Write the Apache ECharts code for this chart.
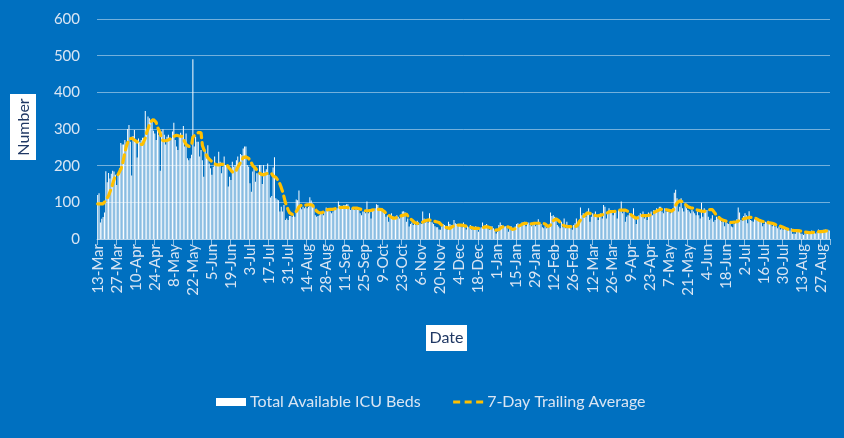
<!DOCTYPE html>
<html>
<head>
<meta charset="utf-8">
<script src="https://cdn.jsdelivr.net/npm/echarts@6/dist/echarts.min.js"></script>
<style>
html,body{margin:0;padding:0;background:#0070C0;}
#chart{width:844px;height:438px;}
</style>
</head>
<body>
<div id="chart"></div>
<script>
// First date of the series: 13-Mar-2020, one bar per day
const startYear = 2020, startMonth = 2, startDay = 13;
const monthNames = ['Jan','Feb','Mar','Apr','May','Jun','Jul','Aug','Sep','Oct','Nov','Dec'];

// Total Available ICU Beds (daily)
const icuBeds = [
  120,125,45,55,60,72,185,155,180,165,178,186,184,175,
  147,180,193,262,258,258,270,263,300,311,265,173,281,297,
  270,222,274,265,270,276,276,349,297,334,329,320,320,295,
  288,270,302,284,186,293,299,284,258,279,284,268,275,293,
  317,270,252,243,279,290,281,308,252,288,220,215,220,230,
  490,252,279,265,265,225,243,215,170,243,220,256,206,193,
  175,197,225,206,202,238,211,179,197,225,202,202,143,170,
  161,211,197,202,215,225,202,232,229,247,252,252,202,197,
  152,129,184,193,156,179,179,202,202,150,202,184,190,206,
  175,113,117,195,223,111,108,106,75,88,75,93,52,56,
  52,63,63,61,65,61,108,106,132,88,81,88,84,88,
  84,88,114,105,97,88,65,61,63,65,70,70,65,75,
  86,81,79,75,
  70,75,84,79,84,102,93,88,88,93,93,95,95,88,
  79,84,86,79,84,79,79,70,65,75,75,70,102,70,
  75,56,79,79,84,95,93,84,79,84,79,70,61,65,
  47,63,70,63,56,61,65,61,56,61,75,76,73,47,
  56,34,41,45,38,43,38,50,38,43,41,75,56,45,
  52,45,70,47,45,41,35,32,32,26,25,35,41,38,
  29,26,47,41,38,38,52,43,41,41,38,35,32,45,
  32,26,35,32,38,26,29,26,35,25,20,29,32,45,
  32,38,41,29,25,34,35,29,23,15,20,38,45,38,
  34,34,35,29,20,34,35,25,29,34,41,43,34,38,
  45,38,47,35,41,45,38,35,41,45,35,38,54,43,
  41,32,29,35,29,38,38,72,63,65,61,56,38,34,
  29,47,32,56,29,47,34,35,29,25,38,43,56,32,
  47,86,65,70,65,61,75,84,47,61,70,65,75,61,
  52,65,70,56,93,88,56,75,84,79,75,65,79,75,
  56,79,81,102,70,79,47,61,65,70,65,61,84,54,
  41,56,65,70,61,75,56,63,52,72,65,75,65,79,
  75,84,79,88,88,75,70,84,75,75,79,70,79,84,
  126,134,111,75,88,111,84,75,97,84,79,75,70,79,
  75,70,65,75,65,
  56,99,61,84,75,79,61,52,56,65,47,52,61,56,
  63,52,47,50,35,47,43,41,45,34,32,41,47,54,
  86,72,52,50,63,70,65,43,76,52,50,47,54,56,
  52,50,54,50,35,41,47,45,50,45,41,35,38,34,
  35,29,34,26,29,26,32,25,25,29,23,29,14,15,
  14,25,26,25,15,14,11,15,17,20,14,17,23,20,
  17,15,20,26,17,23,17,25,26,20,25,23
];

// 7-Day Trailing Average
const trailingAvg = [
  96,96,96,96,96,97,105,112,118,128,138,150,162,172,
  175,176,178,190,200,218,235,252,262,272,275,275,271,270,
  268,265,260,258,257,258,260,275,290,300,312,320,325,326,
  325,318,305,297,288,275,268,266,268,268,270,272,275,277,
  280,284,283,282,281,281,280,275,265,258,254,252,252,255,
  278,282,285,288,290,292,290,255,245,238,228,222,218,214,
  212,208,205,203,202,202,203,204,205,203,202,202,198,192,
  188,183,179,182,188,196,202,208,215,222,225,224,222,220,
  215,208,200,195,193,188,183,180,177,175,175,176,178,180,
  180,181,178,172,170,168,165,158,150,140,129,115,100,90,
  80,72,68,67,68,70,72,80,88,92,93,92,92,93,
  93,94,94,93,92,88,82,76,72,71,72,72,73,75,
  78,80,81,81,
  81,81,82,83,84,85,86,86,86,86,86,86,86,85,
  84,84,84,84,84,84,83,82,80,78,77,77,77,77,
  77,78,79,80,81,81,81,81,81,80,78,74,70,68,
  65,62,59,57,56,57,59,61,62,63,64,65,66,68,
  64,58,56,52,48,45,43,42,42,43,44,46,48,50,
  51,52,52,51,50,49,48,47,46,45,42,38,35,33,
  32,31,30,29,31,34,37,38,38,38,38,38,37,37,
  36,35,34,33,32,31,30,29,29,29,29,29,30,31,
  32,33,34,33,32,30,28,27,25,24,24,26,29,32,
  33,34,34,34,33,31,28,26,25,28,31,34,36,38,
  40,42,43,43,42,42,41,41,42,43,43,43,43,43,
  43,43,42,41,38,34,32,38,44,50,54,55,54,50,
  45,41,38,36,35,34,34,34,34,34,34,33,34,38,
  47,52,56,61,64,68,71,72,70,68,66,65,64,63,
  63,64,65,66,67,68,70,72,74,75,75,75,75,76,
  78,79,79,79,79,79,79,78,75,70,67,64,61,58,
  56,57,60,62,64,64,64,64,64,64,65,67,70,72,
  74,76,78,80,81,81,81,81,80,79,78,77,76,75,
  82,92,98,102,104,104,102,99,95,91,88,86,85,84,
  84,82,80,79,78,
  77,76,75,75,76,78,79,80,81,80,76,70,65,61,
  58,55,52,51,50,49,48,47,46,45,45,46,46,47,
  49,51,53,54,55,56,57,58,59,59,58,58,57,56,
  54,52,50,49,48,47,46,45,45,44,44,43,42,40,
  39,37,36,35,34,32,31,29,28,26,25,24,23,23,
  23,23,22,22,21,21,20,19,18,18,17,17,17,18,
  18,19,19,20,20,20,20,21,21,22,22,23
];

const yTicks = {min: 0, max: 600, step: 100};
const seriesNames = ['Total Available ICU Beds', '7-Day Trailing Average'];
const axisTitles = {x: 'Date', y: 'Number'};

// Category labels (d-Mmm) for each day
const categories = [];
for (let i = 0; i < icuBeds.length; i++) {
  const d = new Date(Date.UTC(startYear, startMonth, startDay + i));
  categories.push(d.getUTCDate() + '-' + monthNames[d.getUTCMonth()]);
}

const txt = '#D9E5F3';
const grid = 'rgba(255,255,255,0.45)';
const chart = echarts.init(document.getElementById('chart'), null, {renderer: 'canvas'});
chart.setOption({
  backgroundColor: '#0070C0',
  animation: false,
  textStyle: {fontFamily: 'Lato'},
  grid: {left: 97, top: 19, width: 733, height: 220, containLabel: false, outerBoundsMode: 'none'},
  xAxis: {
    type: 'category', data: categories, boundaryGap: true,
    axisLine: {show: true, lineStyle: {color: grid, width: 1}},
    axisTick: {show: true, interval: 13, length: 6, lineStyle: {color: 'rgba(255,255,255,0.55)'}},
    axisLabel: {interval: 13, rotate: 90, color: txt, fontSize: 15, fontFamily: 'Lato', margin: 5},
    splitLine: {show: false}
  },
  yAxis: {
    type: 'value', min: yTicks.min, max: yTicks.max, interval: yTicks.step,
    axisLine: {show: false}, axisTick: {show: false},
    axisLabel: {color: txt, fontSize: 15, fontFamily: 'Lato', margin: 17},
    splitLine: {show: true, lineStyle: {color: grid, width: 1}}
  },
  legend: {
    show: true, orient: 'horizontal', left: 216, top: 392, padding: 0,
    itemWidth: 30, itemHeight: 8, itemGap: 31,
    textStyle: {color: txt, fontSize: 16, fontFamily: 'Lato', lineHeight: 20, padding: [0, 0, 0, -1]},
    data: [
      {name: seriesNames[0], icon: 'rect'},
      {name: seriesNames[1], itemStyle: {opacity: 0}, lineStyle: {color: '#FFC000', width: 3, type: [7, 4.5], cap: 'butt'}}
    ]
  },
  series: [
    {
      name: seriesNames[0], type: 'bar', data: icuBeds,
      barWidth: '62%', itemStyle: {color: '#FFFFFF'}, z: 2
    },
    {
      name: seriesNames[1], type: 'line', data: trailingAvg,
      symbol: 'none', showSymbol: false,
      lineStyle: {color: '#FFC000', width: 3.2, type: [8, 5], cap: 'round'},
      itemStyle: {color: '#FFC000'}, z: 3
    }
  ],
  graphic: [
    {type: 'rect', shape: {x: 10, y: 94, width: 26, height: 66}, style: {fill: '#FFFFFF'}, z: 10},
    {type: 'text', x: 23.5, y: 127, rotation: Math.PI / 2,
     style: {text: axisTitles.y, fill: '#203864', font: '16px Lato', align: 'center', verticalAlign: 'middle', textAlign: 'center', textVerticalAlign: 'middle'}, z: 11},
    {type: 'rect', shape: {x: 426, y: 325, width: 41, height: 26}, style: {fill: '#FFFFFF'}, z: 10},
    {type: 'text', x: 446.5, y: 338,
     style: {text: axisTitles.x, fill: '#203864', font: '16px Lato', align: 'center', verticalAlign: 'middle', textAlign: 'center', textVerticalAlign: 'middle'}, z: 11}
  ]
});
</script>
</body>
</html>
